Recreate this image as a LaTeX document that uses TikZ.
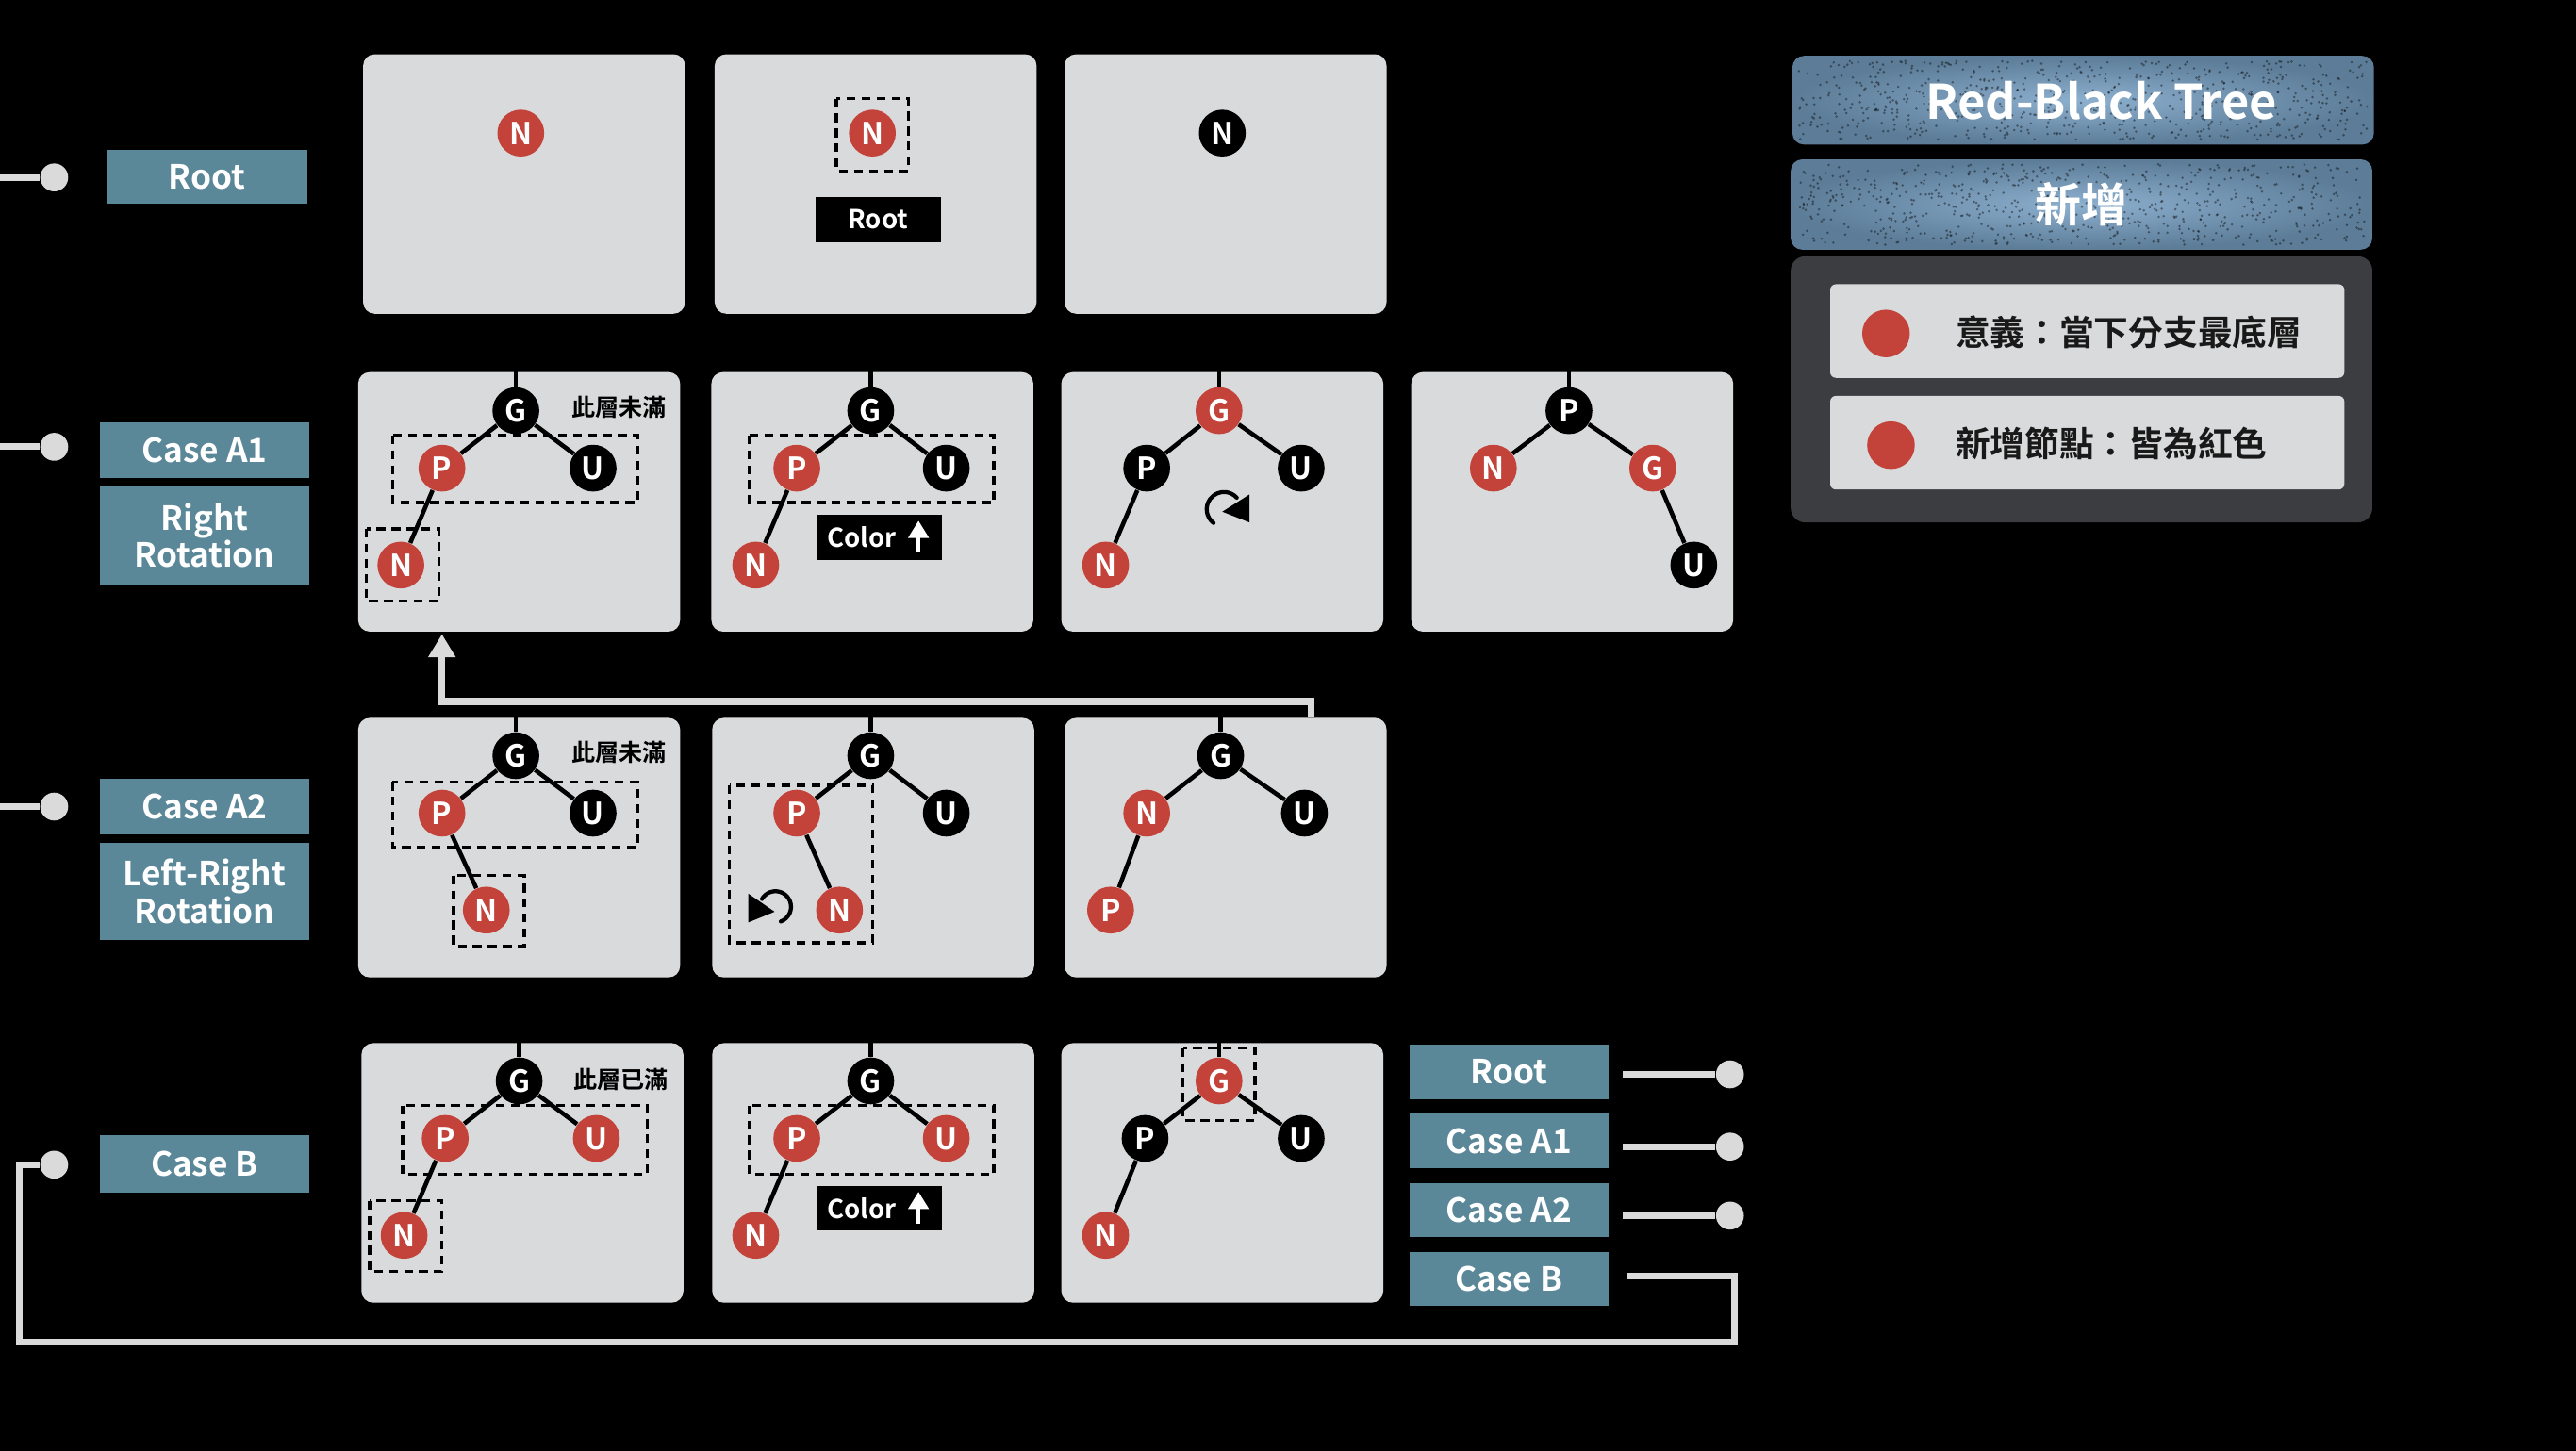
\documentclass[tikz,border=0pt]{standalone}
\usepackage{fontspec}
\setmainfont{Noto Sans CJK TC}[BoldFont={Noto Sans CJK TC Bold}]
\usetikzlibrary{arrows.meta}
\definecolor{panelgray}{HTML}{D9DADB}
\definecolor{caseteal}{HTML}{5B8899}
\definecolor{nodered}{HTML}{C3433A}
\definecolor{wiregray}{HTML}{DADADA}
\definecolor{legenddark}{HTML}{3C3D40}
\definecolor{titleblue}{HTML}{5C7C97}
\definecolor{titlelight}{HTML}{8DB0CF}

\begin{document}
\begin{tikzpicture}[x=0.02cm, y=-0.02cm,
    panel/.style={fill=panelgray, rounded corners=4pt, minimum width=3.92cm, minimum height=3.16cm, inner sep=0pt},
    tnode/.style={circle, inner sep=0pt, minimum size=0.57cm, text=white, font=\bfseries\fontsize{10.5}{10}\selectfont},
    rnode/.style={tnode, fill=nodered},
    bnode/.style={tnode, fill=black},
    edge/.style={line width=1.5pt},
    dashbox/.style={line width=1.1pt, dash pattern=on 3pt off 2.2pt},
    caselabel/.style={fill=caseteal, text=white, align=center, inner sep=0pt, minimum width=2.54cm, font=\bfseries\fontsize{11.5}{13}\selectfont},
    tag/.style={fill=black, text=white, inner sep=0pt, minimum width=1.53cm, minimum height=0.55cm, font=\bfseries\fontsize{9}{10}\selectfont},
    note/.style={font=\bfseries\fontsize{8.2}{9}\selectfont},
    wire/.style={wiregray, line width=2.3pt},
    pin/.style={circle, fill=wiregray, inner sep=0pt, minimum size=0.34cm},
    rot/.style={line width=1.4pt, line cap=round},
    uparrow/.style={white, line width=1.3pt, -{Triangle[length=6pt,width=7pt]}}
  ]
  \useasboundingbox (0,0) rectangle (1568,883);
  \fill[black] (-10,-10) rectangle (1578,893);

  % panels
  \foreach \px/\py/\pn in {319/112/root1, 533/112/root2, 746/112/root3,
      316/305.5/aone1, 531/305.5/aone2, 744/305.5/aone3, 957/305.5/aone4,
      316/516/atwo1, 531.5/516/atwo2, 746/516/atwo3,
      318/714/caseb1, 531.5/714/caseb2, 744/714/caseb3}
    \node[panel] (\pn) at (\px,\py) {};

  % left labels
  \node[caselabel, minimum width=2.44cm, minimum height=0.66cm] (lroot) at (126,107.5) {Root};
  \node[caselabel, minimum height=0.68cm] (la1) at (124.5,274) {Case A1};
  \node[caselabel, minimum height=1.2cm] (la1b) at (124.5,326) {Right\\Rotation};
  \node[caselabel, minimum height=0.68cm] (la2) at (124.5,491) {Case A2};
  \node[caselabel, minimum height=1.18cm] (la2b) at (124.5,542.5) {Left-Right\\Rotation};
  \node[caselabel, minimum height=0.7cm] (lb) at (124.5,708.5) {Case B};

  % left pins
  \foreach \wy/\wn in {108/1, 272/2, 491/3, 709/4} {
    \coordinate (w\wn) at (0,\wy);
    \node[pin] (pin\wn) at (33,\wy) {};
  }
  \draw[wire] (w1) -- (pin1);
  \draw[wire] (w2) -- (pin2);
  \draw[wire] (w3) -- (pin3);

  % right labels
  \node[caselabel, minimum width=2.42cm, minimum height=0.66cm] (rroot) at (918.5,652.5) {Root};
  \node[caselabel, minimum width=2.42cm, minimum height=0.66cm] (ra1) at (918.5,694.5) {Case A1};
  \node[caselabel, minimum width=2.42cm, minimum height=0.66cm] (ra2) at (918.5,736.5) {Case A2};
  \node[caselabel, minimum width=2.42cm, minimum height=0.66cm] (rb) at (918.5,778.5) {Case B};
  \foreach \wy/\wn in {654/1, 698/2, 740/3} {
    \coordinate (rw\wn) at (988,\wy);
    \node[pin] (rpin\wn) at (1053,\wy) {};
    \draw[wire] (rw\wn) -- (rpin\wn);
  }
  \coordinate (bw) at (990,777);
  \draw[wire] (bw) -| (1056,817) -| (12,709) -- (pin4);

  % A2 back to A1
  \coordinate (upa) at (798,437);
  \coordinate (tipa) at (269,386);
  \draw[wire, -{Triangle[length=8pt,width=9pt]}] (upa) |- (269,427) -- (tipa);

  % Root
  \node[rnode] (n11) at (317,81) {N};
  \node[rnode] (n12) at (531,81) {N};
  \draw[dashbox] (509,60) rectangle (553,104);
  \node[tag] (tagroot) at (534.5,133.5) {Root};
  \node[bnode] (n13) at (744,81) {N};

  % Case A1
  \node[bnode] (g21) at (314,250) {G};
  \node[rnode] (p21) at (269,285) {P};
  \node[bnode] (u21) at (361,285) {U};
  \node[rnode] (n21) at (244,344) {N};
  \draw[edge] (g21) -- (g21 |- aone1.north);
  \draw[edge] (p21) -- (g21) -- (u21) (p21) -- (n21);
  \node[note] (note21) at (377,248) {此層未滿};
  \draw[dashbox] (239,265) rectangle (388,306);
  \draw[dashbox] (223,322) rectangle (267,366);

  \node[bnode] (g22) at (530,250) {G};
  \node[rnode] (p22) at (485,285) {P};
  \node[bnode] (u22) at (576,285) {U};
  \node[rnode] (n22) at (460,344) {N};
  \draw[edge] (g22) -- (g22 |- aone2.north);
  \draw[edge] (p22) -- (g22) -- (u22) (p22) -- (n22);
  \draw[dashbox] (456,265) rectangle (605,306);
  \node[tag] (tag22) at (535,327) {Color\rule{0.42cm}{0pt}};
  \draw[uparrow] ([xshift=-0.29cm,yshift=-0.19cm]tag22.east) -- ([xshift=-0.29cm,yshift=0.2cm]tag22.east);

  \node[rnode] (g23) at (742,250) {G};
  \node[bnode] (p23) at (698,285) {P};
  \node[bnode] (u23) at (792,285) {U};
  \node[rnode] (n23) at (673,344) {N};
  \draw[edge] (g23) -- (g23 |- aone3.north);
  \draw[edge] (p23) -- (g23) -- (u23) (p23) -- (n23);
  \draw[rot] (745,310) ++(127:10.5) arc[start angle=127, end angle=318, radius=10.5];
  \fill (744,311.5) -- (760.5,301) -- (760.5,318) -- cycle;

  \node[bnode] (p24) at (955,250) {P};
  \node[rnode] (n24) at (909,285) {N};
  \node[rnode] (g24) at (1006,285) {G};
  \node[bnode] (u24) at (1031,344) {U};
  \draw[edge] (p24) -- (p24 |- aone4.north);
  \draw[edge] (n24) -- (p24) -- (g24) -- (u24);

  % Case A2
  \node[bnode] (g31) at (314,460) {G};
  \node[rnode] (p31) at (269,495) {P};
  \node[bnode] (u31) at (361,495) {U};
  \node[rnode] (n31) at (296,554) {N};
  \draw[edge] (g31) -- (g31 |- atwo1.north);
  \draw[edge] (p31) -- (g31) -- (u31) (p31) -- (n31);
  \node[note] (note31) at (377,458) {此層未滿};
  \draw[dashbox] (239,476) rectangle (388,516);
  \draw[dashbox] (276,533) rectangle (319,576);

  \node[bnode] (g32) at (530,460) {G};
  \node[rnode] (p32) at (485,495) {P};
  \node[bnode] (u32) at (576,495) {U};
  \node[rnode] (n32) at (511,554) {N};
  \draw[edge] (g32) -- (g32 |- atwo2.north);
  \draw[edge] (p32) -- (g32) -- (u32) (p32) -- (n32);
  \draw[dashbox] (444,478) rectangle (531,574);
  \draw[rot] (472,552) ++(70:9.5) arc[start angle=70, end angle=-150, radius=9.5];
  \fill (455.5,544) -- (471.5,555) -- (455.5,561.5) -- cycle;

  \node[bnode] (g33) at (743,460) {G};
  \node[rnode] (n33) at (698,495) {N};
  \node[bnode] (u33) at (794,495) {U};
  \node[rnode] (p33) at (676,554) {P};
  \draw[edge] (g33) -- (g33 |- atwo3.north);
  \draw[edge] (n33) -- (g33) -- (u33) (n33) -- (p33);

  % Case B
  \node[bnode] (g41) at (316,658) {G};
  \node[rnode] (p41) at (271,693) {P};
  \node[rnode] (u41) at (363,693) {U};
  \node[rnode] (n41) at (246,752) {N};
  \draw[edge] (g41) -- (g41 |- caseb1.north);
  \draw[edge] (p41) -- (g41) -- (u41) (p41) -- (n41);
  \node[note] (note41) at (378,657) {此層已滿};
  \draw[dashbox] (245,673) rectangle (394,715);
  \draw[dashbox] (225,731) rectangle (269,774);

  \node[bnode] (g42) at (530,658) {G};
  \node[rnode] (p42) at (485,693) {P};
  \node[rnode] (u42) at (576,693) {U};
  \node[rnode] (n42) at (460,752) {N};
  \draw[edge] (g42) -- (g42 |- caseb2.north);
  \draw[edge] (p42) -- (g42) -- (u42) (p42) -- (n42);
  \draw[dashbox] (456,673) rectangle (605,715);
  \node[tag] (tag42) at (535,735.5) {Color\rule{0.42cm}{0pt}};
  \draw[uparrow] ([xshift=-0.29cm,yshift=-0.19cm]tag42.east) -- ([xshift=-0.29cm,yshift=0.2cm]tag42.east);

  \node[rnode] (g43) at (742,658) {G};
  \node[bnode] (p43) at (697,693) {P};
  \node[bnode] (u43) at (792,693) {U};
  \node[rnode] (n43) at (673,752) {N};
  \draw[edge] (g43) -- (g43 |- caseb3.north);
  \draw[edge] (p43) -- (g43) -- (u43) (p43) -- (n43);
  \draw[dashbox] (720,638) rectangle (764,682);

  % title
  \pgfmathsetseed{7}
  \shade[rounded corners=4pt, inner color=titlelight, outer color=titleblue] (1091,34) rectangle (1445,88);
  \shade[rounded corners=4pt, inner color=titlelight, outer color=titleblue] (1090,97) rectangle (1444,152);
  \foreach \k in {1,...,700} {
    \fill[black, opacity=0.4] (1095+346*rnd, 37+48*rnd) circle (0.8);
    \fill[black, opacity=0.4] (1094+346*rnd, 100+49*rnd) circle (0.8);
  }
  \node[text=white, font=\bfseries\fontsize{16.5}{18}\selectfont] (title) at (1279,61) {Red-Black Tree};
  \node[text=white, font=\bfseries\fontsize{16}{18}\selectfont] (subtitle) at (1267,124.5) {新增};

  % legend
  \fill[legenddark, rounded corners=5pt] (1090,156) rectangle (1444,318);
  \fill[panelgray, rounded corners=2pt] (1114,173) rectangle (1427,230);
  \fill[panelgray, rounded corners=2pt] (1114,241) rectangle (1427,298);
  \node[circle, fill=nodered, minimum size=0.58cm, inner sep=0pt] (dot1) at (1148,203) {};
  \node[circle, fill=nodered, minimum size=0.58cm, inner sep=0pt] (dot2) at (1151,271) {};
  \node[anchor=west, inner sep=0pt, text=black!90, font=\bfseries\fontsize{12}{14}\selectfont] (leg1) at (1190,202) {意義：當下分支最底層};
  \node[anchor=west, inner sep=0pt, text=black!90, font=\bfseries\fontsize{12}{14}\selectfont] (leg2) at (1190,270) {新增節點：皆為紅色};
\end{tikzpicture}
\end{document}
